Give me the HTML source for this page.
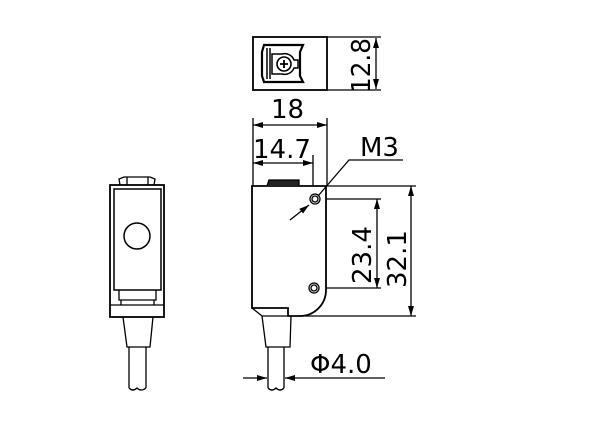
<!DOCTYPE html><html><head><style>body{margin:0;background:#fff}svg{display:block}text{font-family:"DejaVu Sans","Liberation Sans",sans-serif;fill:#000}</style></head><body>
<svg width="600" height="433" viewBox="0 0 600 433" xmlns="http://www.w3.org/2000/svg" fill="none" stroke="#000" stroke-width="1.3">
<defs><marker id="a" markerWidth="10" markerHeight="6" refX="10" refY="3" orient="auto-start-reverse" markerUnits="userSpaceOnUse"><path d="M0,0L10,3L0,6z" fill="#000" stroke="none"/></marker></defs>
<rect x="253" y="37" width="74" height="53" stroke-width="1.8"/>
<path d="M264,45 H303 L300,52 V76 L303,82 H264 L262,76 V52 Z" stroke-width="2.2"/>
<path d="M267,48 V79 M270,48 V79" stroke-width="1.5"/>
<path d="M272,54 H282 A10,10 0 0 1 294,60 H298 V68 H294 A10,10 0 0 1 282,74 H272 Z" stroke-width="1.5"/>
<circle cx="284" cy="64" r="7" stroke-width="1.6"/>
<path d="M284,60V68M280,64H288" stroke-width="1.8"/>
<path d="M327,37H381M327,90H381"/>
<line x1="376" y1="38" x2="376" y2="89" marker-start="url(#a)" marker-end="url(#a)"/>
<text font-size="26" transform="translate(370,93) rotate(-90) scale(0.95,1)" stroke="none">12.8</text>
<path d="M253,118V186M327,118V186M313,155V186"/>
<line x1="253" y1="125" x2="327" y2="125" marker-start="url(#a)" marker-end="url(#a)"/>
<line x1="253" y1="163" x2="313" y2="163" marker-start="url(#a)" marker-end="url(#a)"/>
<text x="271" y="118" font-size="26" stroke="none">18</text>
<text x="253" y="158" font-size="26" stroke="none">14.7</text>
<text x="360" y="156" font-size="26" stroke="none">M3</text>
<path d="M403,160H349L318,196"/>
<line x1="290" y1="220" x2="309" y2="205" marker-end="url(#a)"/>
<path d="M252,186H326V290A26,26 0 0 1 300,316H288V308H252Z" stroke-width="1.8"/>
<path d="M267,186L269,180H299V186" fill="#222"/>
<circle cx="315" cy="199" r="5"/><circle cx="315" cy="199" r="3"/>
<circle cx="314" cy="288" r="5"/><circle cx="314" cy="288" r="3"/>
<path d="M252,308L262,316H288"/>
<path d="M262,316L266,347H290L291,316"/>
<path d="M268,347V388M284,347V388M268,388q4,4 8,0q4,4 8,0"/>
<path d="M326,199H381M326,288H381M326,186H416M300,316H416"/>
<line x1="377" y1="199" x2="377" y2="288" marker-start="url(#a)" marker-end="url(#a)"/>
<line x1="411" y1="186" x2="411" y2="316" marker-start="url(#a)" marker-end="url(#a)"/>
<text font-size="26" transform="translate(371,284) rotate(-90)" stroke="none">23.4</text>
<text font-size="26" transform="translate(406,288) rotate(-90)" stroke="none">32.1</text>
<line x1="243" y1="378" x2="267" y2="378" marker-end="url(#a)"/>
<line x1="385" y1="378" x2="285" y2="378" marker-end="url(#a)"/>
<text x="310" y="373" font-size="26" stroke="none">Φ4.0</text>
<rect x="110" y="185" width="54" height="132" stroke-width="1.8"/>
<rect x="114" y="189" width="47" height="101" stroke-width="1.5"/>
<circle cx="137" cy="236" r="13" stroke-width="1.5"/>
<path d="M120,185L119,179L124,177H150L155,179L154,185M127,177V185M148,177V185"/>
<path d="M119,290V300H156V290M121,300V305M154,300V305M110,305H164"/>
<path d="M123,317L127,347H150L153,317"/>
<path d="M129,347V388M146,347V388M129,388q4,4 8,0q4,4 9,0"/>
</svg></body></html>
